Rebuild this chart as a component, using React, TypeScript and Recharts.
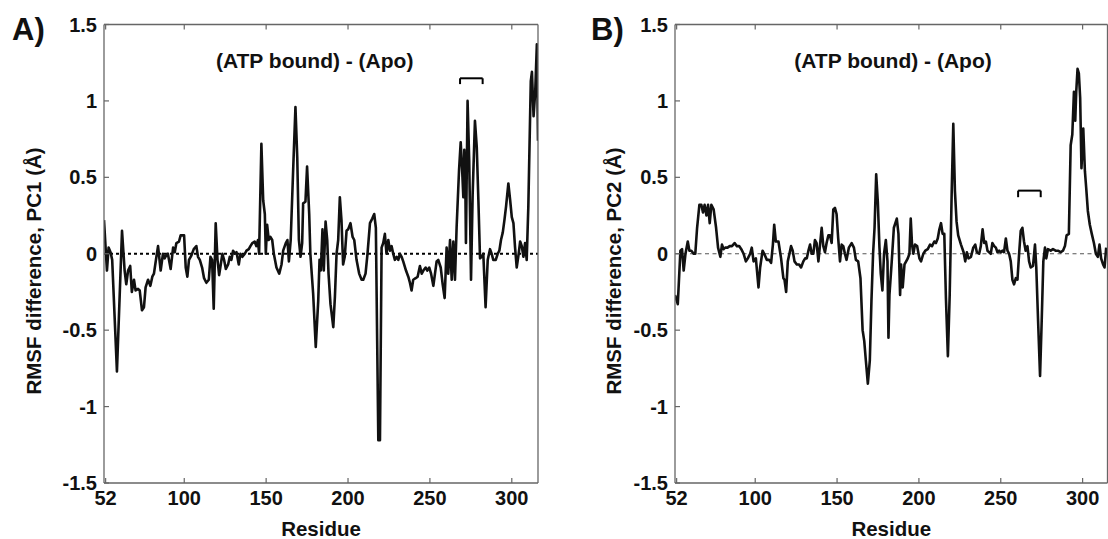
import React from 'react';
import { LineChart, Line, XAxis, YAxis, ReferenceLine, Label } from 'recharts';

// residue positions / RMSF differences (PC1)
const residuesPc1 = [
  51, 52.8, 53.8, 55, 56, 58.9, 62, 63.6, 64.6, 65.7,
  67, 68, 69.3, 70.3, 71.8, 72.8, 74.2, 75.4, 76.4, 77.9,
  79.3, 80.5, 81.5, 83, 84, 85.6, 87, 88, 89, 90,
  91.7, 93.2, 94.2, 95.2, 96.8, 97.8, 99.9, 100.9, 101.9, 102.9,
  104.4, 105.8, 107.4, 108.4, 109.5, 110.9, 112.1, 113.5, 115, 116,
  117, 118, 119.2, 120.3, 121.3, 122.3, 123.3, 124.3, 125.4, 126.8,
  127.8, 128.8, 129.8, 130.9, 131.9, 133.3, 134.3, 135.5, 137, 138,
  139.4, 140.4, 141.6, 143, 144, 145, 145.7, 147.1, 148.2, 149.2,
  149.8, 150.6, 151.6, 152.6, 153.7, 154.7, 156.3, 158, 159.4, 160.4,
  162, 163, 163.9, 165, 166.5, 167.9, 169, 170, 171, 172,
  172.6, 174, 175, 176.3, 177, 178.7, 180.3, 181.8, 182.6, 183.4,
  184.4, 185.2, 186.3, 187.3, 188.1, 189.3, 191, 192, 193, 194,
  195, 196, 197, 198, 199.1, 200.1, 201.5, 202.8, 203.8, 205.2,
  206.8, 208.3, 209.3, 210.7, 211.9, 213.4, 214.8, 216, 217, 217.8,
  218.5, 219.5, 220.5, 221.5, 222.5, 223.5, 224.6, 225.6, 226.6, 227.6,
  228.6, 229.7, 230.7, 231.7, 232.7, 233.7, 235.4, 236.8, 237.8, 238.8,
  239.8, 241.3, 242.5, 243.9, 245, 246, 247.4, 248.4, 249.6, 250.7,
  252.1, 253.1, 254.1, 255.1, 256.6, 257.8, 259, 260.2, 261.2, 262.3,
  263.3, 264.3, 265.3, 266.3, 267.8, 268.8, 269.8, 270.4, 271, 271.6,
  272, 273, 274, 275.1, 276.1, 277.5, 278.6, 279.6, 280.6, 281.6,
  282.6, 284, 285.3, 286.7, 287.7, 288.7, 290.2, 291.4, 292.4, 293.4,
  294.5, 295.5, 296.5, 297.9, 299, 300, 301, 302, 303, 304.2,
  305.1, 306.1, 307.1, 308.1, 309.1, 310.1, 311.6, 312.3, 313.3, 314.3,
  315.3, 316,
];
const rmsfPc1 = [
  0.22, -0.11, 0.04, 0.01, -0.04, -0.77, 0.15, -0.11, -0.2, -0.11,
  -0.08, -0.25, -0.17, -0.24, -0.23, -0.24, -0.37, -0.35, -0.22, -0.17,
  -0.21, -0.15, -0.13, -0.02, 0.05, -0.11, 0, -0.03, -0.01, 0,
  -0.1, 0.04, 0.01, 0.07, 0.08, 0.12, 0.12, -0.09, -0.15, -0.04,
  -0.01, 0.03, 0.05, -0.02, -0.04, -0.09, -0.16, -0.19, -0.17, -0.02,
  -0.04, -0.36, 0.2, -0.04, -0.14, -0.07, 0, -0.04, -0.1, -0.07,
  -0.02, -0.04, 0.02, 0, 0.01, -0.07, 0, -0.02, 0, 0.02,
  0.03, 0.05, 0.07, 0.08, 0.05, 0.09, 0, 0.72, 0.35, 0.26,
  0, 0.19, 0.09, 0.11, 0.09, 0, -0.09, -0.13, -0.07, 0.02,
  0.07, 0.09, -0.05, 0.09, 0.55, 0.96, 0.63, 0.09, -0.02, 0.07,
  0.33, 0.34, 0.57, 0.26, 0, -0.26, -0.61, -0.31, -0.04, -0.11,
  0.16, -0.11, 0.21, 0.09, -0.13, -0.33, -0.48, -0.28, 0, 0.09,
  0.37, 0.22, -0.07, -0.02, 0.15, 0.16, 0.2, 0.11, 0.09, -0.04,
  -0.13, -0.17, -0.17, -0.13, 0, 0.2, 0.23, 0.26, 0.17, -0.57,
  -1.22, -1.22, 0.04, 0.07, 0.13, 0, 0.09, 0.02, 0.05, 0,
  -0.04, -0.02, -0.04, 0, -0.02, -0.05, -0.11, -0.15, -0.19, -0.24,
  -0.17, -0.16, -0.15, -0.08, -0.13, -0.11, -0.09, -0.11, -0.09, -0.13,
  -0.21, -0.13, -0.05, -0.04, -0.09, -0.2, -0.29, 0.04, -0.13, 0.09,
  -0.17, 0.08, -0.17, 0.17, 0.55, 0.73, 0.52, 0.37, 0.68, 0.48,
  0.07, 1.0, 0.61, -0.17, 0.39, 0.87, 0.7, 0.35, -0.03, -0.02,
  0, -0.35, -0.04, 0.03, 0, -0.04, -0.04, 0, 0.02, 0.09,
  0.14, 0.22, 0.31, 0.46, 0.35, 0.24, 0.2, 0.04, -0.09, 0,
  0.08, 0.05, -0.02, 0.07, -0.04, 0.31, 1.13, 1.19, 0.9, 1.06,
  1.37, 0.74,
];

// panel B (PC2)
const residuesPc2 = [
  51, 52.7, 54.3, 55.3, 56.3, 57.4, 58.8, 59.8, 61, 62.4,
  63.4, 64.5, 65.9, 67.1, 68.1, 69.1, 70.2, 71.2, 72.2, 73.2,
  74.6, 76.1, 77.3, 78.7, 79.7, 80.7, 81.7, 83.1, 84.4, 85.8,
  87.4, 88.8, 90.2, 91.5, 92.9, 94.3, 95.5, 96.9, 97.9, 99,
  100.4, 102, 103, 104.5, 105.5, 107.1, 108.5, 109.7, 110.8, 111.6,
  112.6, 114.2, 115.8, 117.2, 117.9, 118.9, 119.9, 120.9, 121.9, 122.9,
  124, 125.4, 126.8, 128, 129.4, 130.5, 131.5, 132.5, 133.5, 134.5,
  135.5, 136.5, 137.5, 138.6, 139.6, 140.6, 141.6, 142.6, 143.6, 144.7,
  145.7, 146.7, 147.7, 148.7, 149.7, 150.7, 151.8, 152.8, 153.8, 154.8,
  155.8, 157.2, 158.9, 160.3, 161.5, 162.9, 164.3, 165.6, 166.6, 167.6,
  168.8, 170, 171, 172, 172.9, 173.9, 174.9, 175.9, 176.7, 177.7,
  178.7, 179.8, 180.8, 181.4, 182, 183.4, 184.7, 186.5, 187.5, 188.5,
  189.1, 190.1, 191.2, 192.2, 193.2, 194.2, 195, 195.8, 196.6, 197.6,
  198.9, 200.3, 201.3, 202.7, 203.9, 205.4, 206.8, 208, 209.4, 210.4,
  211.5, 212.5, 213.5, 214.5, 215.5, 216.5, 217.7, 218.8, 220, 221,
  222, 223, 224, 225.7, 227.3, 228.3, 229.3, 230.3, 231.8, 233.2,
  234.4, 235.4, 236.8, 237.8, 238.9, 239.9, 240.9, 241.9, 242.9, 243.9,
  244.9, 246, 247, 248, 249, 250, 251, 252, 253.1, 254.1,
  255.1, 256.1, 257.1, 258.1, 259.2, 260.2, 261.2, 262.2, 263.2, 264.2,
  265.2, 266.3, 267.3, 268.3, 269.7, 270.9, 271.7, 272.8, 274, 275,
  276, 277, 277.8, 278.8, 280.5, 281.9, 283.5, 284.9, 286.6, 288,
  289.2, 290.2, 291.6, 292.7, 293.7, 294.7, 295.5, 296.1, 296.9, 297.7,
  298.5, 299.3, 300.4, 301.4, 302.2, 303.2, 304.4, 305.6, 306.9, 308.1,
  309.3, 310.3, 311.3, 312.5, 313.4, 314.4,
];
const rmsfPc2 = [
  -0.27, -0.33, 0.02, 0.03, -0.11, 0, 0.08, 0.02, 0.02, 0,
  0, 0.17, 0.32, 0.32, 0.27, 0.32, 0.25, 0.32, 0.2, 0.32,
  0.29, 0.17, 0.04, -0.02, 0.06, 0.03, 0.04, 0.04, 0.05, 0.05,
  0.07, 0.05, 0.05, 0.03, 0, -0.05, -0.03, 0, 0.04, -0.05,
  -0.03, -0.22, -0.09, 0.02, 0, -0.04, -0.04, -0.06, 0.06, 0.19,
  0.08, 0.08, -0.03, -0.16, -0.17, -0.25, -0.05, 0, 0.05, 0.02,
  -0.05, -0.07, -0.07, -0.09, -0.05, -0.03, -0.03, 0.02, 0.06, 0,
  0, 0.09, 0.07, -0.05, 0.06, 0.17, 0.05, 0.01, 0.07, 0.12,
  0.12, 0.07, 0.29, 0.3, 0.26, 0.1, -0.05, 0.06, 0.05, 0,
  -0.04, 0.04, 0.07, 0.04, -0.04, -0.05, -0.16, -0.5, -0.57, -0.7,
  -0.85, -0.7, -0.31, 0, 0.17, 0.52, 0.34, 0.04, -0.13, -0.24,
  0, 0.09, -0.05, -0.55, -0.27, -0.05, 0.17, 0.23, 0.13, -0.27,
  -0.07, -0.22, -0.07, -0.05, -0.03, 0, 0.23, 0.06, 0, 0.06,
  0.05, -0.03, -0.05, 0, 0.02, 0.03, 0.06, 0.05, 0.08, 0.07,
  0.1, 0.16, 0.2, 0.13, 0.13, -0.29, -0.67, -0.27, 0.39, 0.85,
  0.41, 0.21, 0.12, 0.06, 0.01, -0.05, 0.01, -0.03, -0.02, 0.04,
  0.06, 0.01, 0, 0.05, 0.16, 0.07, 0.08, 0.02, 0.01, 0,
  0.07, 0.05, 0.04, 0.01, 0.02, 0.01, 0.02, 0.01, 0.1, 0.02,
  0, -0.05, -0.17, -0.2, -0.16, -0.17, 0, 0.15, 0.17, 0.08,
  0.02, 0.05, -0.05, -0.09, -0.08, 0.06, -0.09, -0.44, -0.8, -0.44,
  -0.05, 0.04, -0.03, 0.03, 0.02, 0.03, 0.02, 0.02, 0.01, 0.02,
  0.05, 0.12, 0.13, 0.71, 0.78, 1.06, 0.87, 1.06, 1.21, 1.18,
  1.02, 0.56, 0.82, 0.54, 0.43, 0.28, 0.19, 0.13, 0.07, 0,
  -0.02, 0.06, -0.03, -0.07, -0.09, 0.04,
];

const residueTicks = [52, 100, 150, 200, 250, 300];
const rmsfTicks = [-1.5, -1, -0.5, 0, 0.5, 1, 1.5];

// bracket marks: [from residue, to residue, top, leg end]
const bracketPc1 = [268.4, 282.2, 1.148, 1.11];
const bracketPc2 = [260.6, 274.4, 0.413, 0.37];

const FONT = '"Liberation Sans", Arial, Helvetica, sans-serif';
const AXIS_GREY = '#666';
const INK = '#111';
const CHART_H = 539;
const PLOT_TOP = 24.5;
const PLOT_LEFT = 104;
const X_AXIS_H = 56;

const toRows = (xs: number[], ys: number[]) => xs.map((residue, i) => ({ residue, rmsf: ys[i] }));

const textStyle = { fontFamily: FONT, fontWeight: 700, fill: INK };

const BottomTick = ({ x, y, payload }: any) => (
  <g>
    <line x1={x} x2={x} y1={y} y2={y - 5} stroke={AXIS_GREY} strokeWidth={1.2} />
    <text x={x} y={y + 22} textAnchor="middle" fontSize={20} {...textStyle}>{payload.value}</text>
  </g>
);

const TopTick = ({ x, y }: any) => (
  <line x1={x} x2={x} y1={y} y2={y + 5} stroke={AXIS_GREY} strokeWidth={1.2} />
);

const LeftTick = ({ x, y, payload }: any) => (
  <g>
    <line x1={x} x2={x + 5} y1={y} y2={y} stroke={AXIS_GREY} strokeWidth={1.2} />
    <text x={x - 7} y={y} textAnchor="end" dominantBaseline="central" fontSize={20} {...textStyle}>
      {payload.value}
    </text>
  </g>
);

const RightTick = ({ x, y }: any) => (
  <line x1={x} x2={x - 5} y1={y} y2={y} stroke={AXIS_GREY} strokeWidth={1.2} />
);

interface PanelProps {
  left: number;
  width: number;
  marginRight: number;
  xMax: number;
  rows: { residue: number; rmsf: number }[];
  letter: string;
  letterX: number;
  titleX: number;
  yLabel: string;
  yLabelX: number;
  bracket: number[];
  zeroStroke: string;
  zeroWidth: number;
  zeroDash: string;
}

const RmsfPanel = (p: PanelProps) => {
  const plotRight = p.width - p.marginRight;
  const midX = (PLOT_LEFT + plotRight) / 2;
  const [b0, b1, bTop, bLeg] = p.bracket;
  const axisLine = { stroke: AXIS_GREY, strokeWidth: 1.3 };

  return (
    <div style={{ position: 'absolute', left: p.left, top: 0 }}>
      <LineChart
        width={p.width}
        height={CHART_H}
        data={p.rows}
        margin={{ top: PLOT_TOP - 1, right: p.marginRight - 1, bottom: 0, left: 0 }}
      >
        <XAxis
          dataKey="residue"
          type="number"
          domain={[51, p.xMax]}
          ticks={residueTicks}
          interval={0}
          allowDataOverflow
          height={X_AXIS_H}
          tickSize={0}
          tickMargin={0}
          tickLine={false}
          tick={BottomTick}
          axisLine={axisLine}
        >
          <Label
            content={() => (
              <text x={midX} y={535.5} textAnchor="middle" fontSize={20.5} {...textStyle}>
                Residue
              </text>
            )}
          />
        </XAxis>
        <XAxis
          xAxisId="top"
          orientation="top"
          dataKey="residue"
          type="number"
          domain={[51, p.xMax]}
          ticks={residueTicks}
          interval={0}
          allowDataOverflow
          height={1}
          tickSize={0}
          tickMargin={0}
          tickLine={false}
          tick={TopTick}
          axisLine={axisLine}
        />
        <YAxis
          type="number"
          domain={[-1.5, 1.5]}
          ticks={rmsfTicks}
          interval={0}
          allowDataOverflow
          width={PLOT_LEFT}
          tickSize={0}
          tickMargin={0}
          tickLine={false}
          tick={LeftTick}
          axisLine={axisLine}
        >
          <Label
            content={() => (
              <g>
                <text
                  x={p.yLabelX}
                  y={271}
                  transform={`rotate(-90 ${p.yLabelX} 271)`}
                  textAnchor="middle"
                  fontSize={20.5}
                  {...textStyle}
                >
                  {p.yLabel}
                </text>
                <text x={p.letterX} y={40} fontSize={31} {...textStyle}>{p.letter}</text>
                <text x={p.titleX} y={68} textAnchor="middle" fontSize={21} {...textStyle}>
                  (ATP bound) - (Apo)
                </text>
              </g>
            )}
          />
        </YAxis>
        <YAxis
          yAxisId="right"
          orientation="right"
          type="number"
          domain={[-1.5, 1.5]}
          ticks={rmsfTicks}
          interval={0}
          width={1}
          tickSize={0}
          tickMargin={0}
          tickLine={false}
          tick={RightTick}
          axisLine={axisLine}
        />
        <ReferenceLine y={0} stroke={p.zeroStroke} strokeWidth={p.zeroWidth} strokeDasharray={p.zeroDash} />
        <ReferenceLine segment={[{ x: b0, y: bLeg }, { x: b0, y: bTop }]} stroke="#000" strokeWidth={2} />
        <ReferenceLine segment={[{ x: b0, y: bTop }, { x: b1, y: bTop }]} stroke="#000" strokeWidth={2} />
        <ReferenceLine segment={[{ x: b1, y: bTop }, { x: b1, y: bLeg }]} stroke="#000" strokeWidth={2} />
        <Line
          type="linear"
          dataKey="rmsf"
          stroke={INK}
          strokeWidth={2.6}
          strokeLinejoin="round"
          dot={false}
          activeDot={false}
          isAnimationActive={false}
        />
      </LineChart>
    </div>
  );
};

export default function App() {
  return (
    <div
      style={{
        position: 'absolute',
        left: 0,
        top: 0,
        width: 1108,
        height: 539,
        overflow: 'hidden',
        background: '#fff',
      }}
    >
      <RmsfPanel
        left={0}
        width={560}
        marginRight={22}
        xMax={316}
        rows={toRows(residuesPc1, rmsfPc1)}
        letter="A)"
        letterX={12}
        titleX={314.7}
        yLabel="RMSF difference, PC1 (Å)"
        yLabelX={40.5}
        bracket={bracketPc1}
        zeroStroke="#000"
        zeroWidth={2}
        zeroDash="3 3"
      />
      <RmsfPanel
        left={571}
        width={537}
        marginRight={0.5}
        xMax={315.2}
        rows={toRows(residuesPc2, rmsfPc2)}
        letter="B)"
        letterX={20}
        titleX={322}
        yLabel="RMSF difference, PC2 (Å)"
        yLabelX={49.6}
        bracket={bracketPc2}
        zeroStroke="#555"
        zeroWidth={1.2}
        zeroDash="4 3.5"
      />
    </div>
  );
}
